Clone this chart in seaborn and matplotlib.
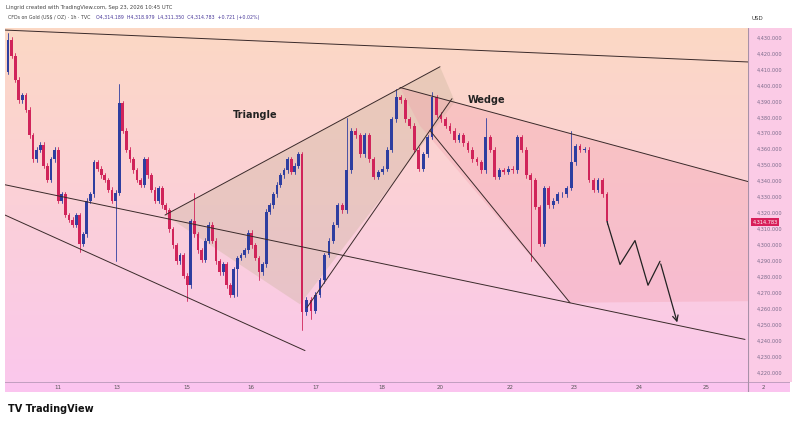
import numpy as np
import matplotlib.pyplot as plt
import seaborn as sns
from matplotlib.patches import Rectangle, Polygon

sns.set_style("white")
plt.rcParams['font.family'] = ['DejaVu Sans']

# ---- data: hourly closes (USD / oz) ----
first_open = 4409
closes = [4429, 4419, 4404, 4391, 4394, 4385, 4369, 4354, 4360, 4363, 4350, 4341,
          4354, 4360, 4328, 4332, 4319, 4316, 4313, 4319, 4301, 4307, 4328, 4332,
          4352, 4348, 4344, 4341, 4335, 4328, 4333, 4389, 4372, 4360, 4354, 4347,
          4341, 4338, 4354, 4344, 4335, 4328, 4336, 4325, 4322, 4310, 4300, 4290,
          4294, 4281, 4275, 4315, 4307, 4297, 4291, 4303, 4313, 4303, 4290, 4283,
          4288, 4275, 4269, 4285, 4292, 4294, 4297, 4308, 4300, 4292, 4283, 4288,
          4321, 4325, 4332, 4338, 4344, 4347, 4354, 4346, 4350, 4357, 4258, 4266,
          4259, 4269, 4278, 4294, 4303, 4313, 4325, 4322, 4347, 4372, 4369, 4357,
          4369, 4354, 4343, 4346, 4348, 4360, 4379, 4393, 4391, 4379, 4375, 4360,
          4348, 4357, 4368, 4393, 4382, 4379, 4375, 4372, 4366, 4369, 4364, 4360,
          4354, 4352, 4347, 4368, 4360, 4343, 4347, 4346, 4348, 4347, 4368, 4360,
          4344, 4341, 4324, 4301, 4336, 4325, 4328, 4332, 4332, 4336, 4352, 4362,
          4360, 4360, 4341, 4335, 4341, 4332, 4320, 4315, 4315]
# notable wicks (candle index -> extreme price)
wick_highs = {0: 4433, 31: 4401, 52: 4333, 92: 4380, 103: 4398, 111: 4396,
              123: 4380, 142: 4372}
wick_lows = {20: 4296, 30: 4290, 50: 4265, 64: 4268, 82: 4247, 84: 4254,
             133: 4290, 70: 4278}
# session anchors: candle index -> chart x position (first, big drop, last)
anchor_idx = [0, 82, 150]
anchor_x = [8, 302, 607]

price_ticks = [4430, 4420, 4410, 4400, 4390, 4380, 4370, 4360, 4350, 4340, 4330,
               4320, 4310, 4300, 4290, 4280, 4270, 4260, 4250, 4240, 4230, 4220]
day_labels = ['11', '13', '15', '16', '17', '18', '20', '22', '23', '24', '25', '2']
day_pos = [58, 117, 187, 251, 316, 382, 440, 510, 574, 639, 706, 763]

# drawn trendlines: (x, price) pairs
top_line = [(5, 4435), (748, 4415)]
channel_mid = [(5, 4338), (745, 4241)]
channel_low = [(5, 4319), (305, 4234)]
tri_upper = [(165, 4319), (440, 4412)]
tri_lower = [(307, 4261), (452, 4392)]
tri_fill = [(165, 4319), (440, 4412), (455, 4390), (300, 4263)]
wedge_upper = [(400, 4399), (748, 4340)]
wedge_lower = [(430, 4372), (570, 4264)]
wedge_fill = [(400, 4399), (748, 4340), (748, 4265), (570, 4264), (420, 4375)]
projection = [(607, 4315), (620, 4288), (635, 4303), (648, 4275), (660, 4290), (678, 4250)]

UP, DOWN = '#2e3ea0', '#d0245a'

fig = plt.figure(figsize=(8, 4.22), dpi=100)
ax = fig.add_axes([5/800, 40/422, 743/800, 354/422])
ylo, yhi = 4214.3, 4436.3
ax.set_xlim(5, 748)
ax.set_ylim(ylo, yhi)

# background gradient peach -> pink
grad = np.linspace(0, 1, 256)[:, None]
top_c = np.array([252, 216, 196]) / 255
bot_c = np.array([250, 200, 236]) / 255
img = top_c[None, None, :] * (1 - grad[..., None]) + bot_c[None, None, :] * grad[..., None]
ax.imshow(img, extent=[5, 748, ylo, yhi], aspect='auto', origin='upper', zorder=0)

ax.add_patch(Polygon(tri_fill, closed=True, color='#c9b49a', alpha=0.35, lw=0, zorder=1))
ax.add_patch(Polygon(wedge_fill, closed=True, color='#f29aa8', alpha=0.3, lw=0, zorder=1))

# candles
opens = [first_open] + closes[:-1]
xs_c = np.interp(np.arange(len(closes)), anchor_idx, anchor_x)
for i, (o, c) in enumerate(zip(opens, closes)):
    x = xs_c[i]
    col = UP if c >= o else DOWN
    hi = wick_highs.get(i, max(o, c) + 1.5)
    lo = wick_lows.get(i, min(o, c) - 1.5)
    ax.plot([x, x], [lo, hi], color=col, lw=0.6, zorder=3)
    ax.add_patch(Rectangle((x - 1.4, min(o, c)), 2.8, max(abs(c - o), 0.4),
                           color=col, lw=0, zorder=4))

for seg in [top_line, channel_mid, channel_low, tri_upper, tri_lower,
            wedge_upper, wedge_lower]:
    xs, ys = zip(*seg)
    ax.plot(xs, ys, color='#3a2a2a', lw=0.7, zorder=5)

px, py = zip(*projection)
ax.plot(px[:-1], py[:-1], color='#222', lw=0.9, zorder=5)
ax.annotate('', xy=projection[-1], xytext=projection[-2],
            arrowprops=dict(arrowstyle='->', color='#222', lw=0.9), zorder=5)

ax.text(255, 4382, 'Triangle', fontsize=7, fontweight='bold', ha='center', va='center', color='#222')
ax.text(487, 4391, 'Wedge', fontsize=7, fontweight='bold', ha='center', va='center', color='#222')

ax.set_xticks([])
ax.set_yticks([])
for s in ax.spines.values():
    s.set_visible(False)

# price scale
pax = fig.add_axes([748/800, 40/422, 44/800, 354/422])
pax.set_xlim(0, 1)
pax.set_ylim(ylo, yhi)
pax.set_facecolor('#fbcbe6')
pax.set_xticks([])
pax.set_yticks([])
for s in pax.spines.values():
    s.set_visible(False)
pax.axvline(0, color='#a890a8', lw=0.8)
for p in price_ticks:
    pax.text(0.2, p, f"{p:,.3f}", fontsize=3.6, va='center', ha='left', color='#7a6a8a')
pax.text(0.1, 4314.783, '4,314.783', fontsize=3.6, va='center', ha='left', color='white',
         bbox=dict(boxstyle='square,pad=0.25', fc='#d81f5a', ec='none'))
fig.text(752/800, 1 - 19/422, 'USD', fontsize=4, va='center', ha='left', color='#333',
         bbox=dict(boxstyle='square,pad=0.6', fc='white', ec='none'))

# time scale strip
tax = fig.add_axes([5/800, 30/422, 785/800, 10/422])
tax.set_xlim(5, 790)
tax.set_ylim(0, 1)
tax.set_facecolor('#fbc4ef')
tax.set_xticks([])
tax.set_yticks([])
for s in tax.spines.values():
    s.set_visible(False)
tax.axhline(1, color='#b898b8', lw=1.2)
tax.axvline(748, color='#a890a8', lw=0.8)
for lab, pos in zip(day_labels, day_pos):
    tax.text(pos, 0.45, lab, fontsize=4, ha='center', va='center', color='#555')

fig.text(6/800, 1 - 7/422, 'Lingrid created with TradingView.com, Sep 23, 2026 10:45 UTC',
         fontsize=3.8, va='center', color='#444')
fig.text(8/800, 1 - 18/422, 'CFDs on Gold (US$ / OZ) · 1h · TVC', fontsize=3.4,
         va='center', color='#444', zorder=10)
fig.text(96/800, 1 - 18/422, 'O4,314.189  H4,318.979  L4,311.350  C4,314.783  +0.721 (+0.02%)',
         fontsize=3.4, va='center', color='#4a3a9a', zorder=10)
fig.text(8/800, 1 - 409/422, 'TV TradingView', fontsize=7, fontweight='bold',
         va='center', color='#111')

fig.savefig('out.png', dpi=100, facecolor='white')
